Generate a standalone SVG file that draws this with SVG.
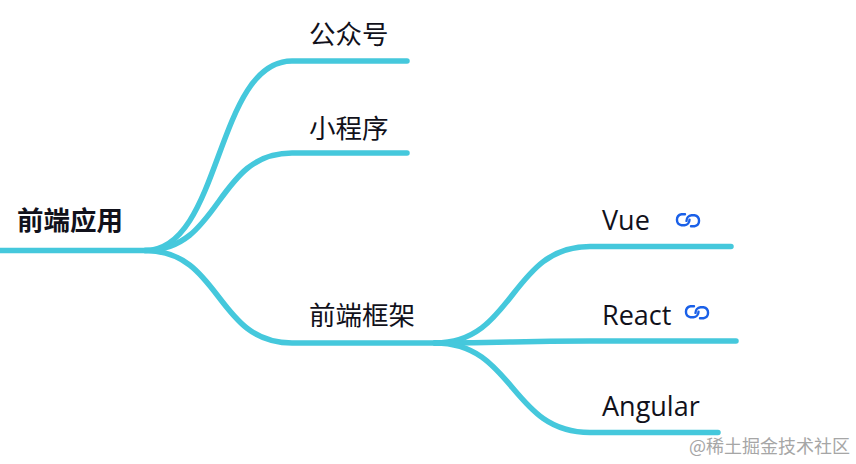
<svg xmlns="http://www.w3.org/2000/svg" width="856" height="464" viewBox="0 0 856 464">
<defs>
<g id="link" fill="none" stroke="#1a60e8" stroke-width="2.4" stroke-linecap="round">
<path d="M-3,-6.2 H-6.5 A5.6,5.6 0 0 0 -6.5,4.8 H-3.5 A5.6,5.6 0 0 0 1.5,-0.8"/>
<path d="M3,5.8 H6.5 A5.6,5.6 0 0 0 6.5,-5.2 H3.5 A5.6,5.6 0 0 0 -1.5,0.4"/>
</g>
</defs>
<style>
.c{fill:none;stroke:#45c8dc;stroke-width:5.5;stroke-linecap:round}
.t{font-family:"Noto Sans CJK SC","Noto Sans",sans-serif;font-size:26.5px;fill:#11111b}
.l{font-family:"Open Sans","Noto Sans",sans-serif;font-size:27px;fill:#11111b}
.b{font-weight:700}
.w{font-family:"Noto Sans CJK SC",sans-serif;font-size:18px;fill:#a6a6a6}
</style>
<rect width="856" height="464" fill="#fff"/>
<g id="connectors">
<path class="c" d="M-3,250.5 H145 C222,250.5 215,61 292,61 H407"/>
<path class="c" d="M145,250.5 C222,250.5 215,153 292,153 H407"/>
<path class="c" d="M145,250.5 C222,250.5 215,343 292,343 H435"/>
<path class="c" d="M435,343 C515,343 510,246.5 590,246.5 H731"/>
<path class="c" d="M435,343 C515,343 510,341 590,341 H736"/>
<path class="c" d="M435,343 C515,343 510,432.5 590,432.5 H718"/>
</g>
<g id="node-root"><text class="t b" x="17" y="230">前端应用</text></g>
<g id="node-gzh"><text class="t" x="309" y="44">公众号</text></g>
<g id="node-xcx"><text class="t" x="309" y="138">小程序</text></g>
<g id="node-kj"><text class="t" x="309" y="325">前端框架</text></g>
<g id="node-vue"><text class="l" x="602" y="230">Vue</text><use href="#link" x="688" y="220.5"/></g>
<g id="node-react"><text class="l" x="602" y="325">React</text><use href="#link" x="697" y="312.5"/></g>
<g id="node-angular"><text class="l" x="602" y="416">Angular</text></g>
<text class="w" x="689" y="453">@稀土掘金技术社区</text>
</svg>
